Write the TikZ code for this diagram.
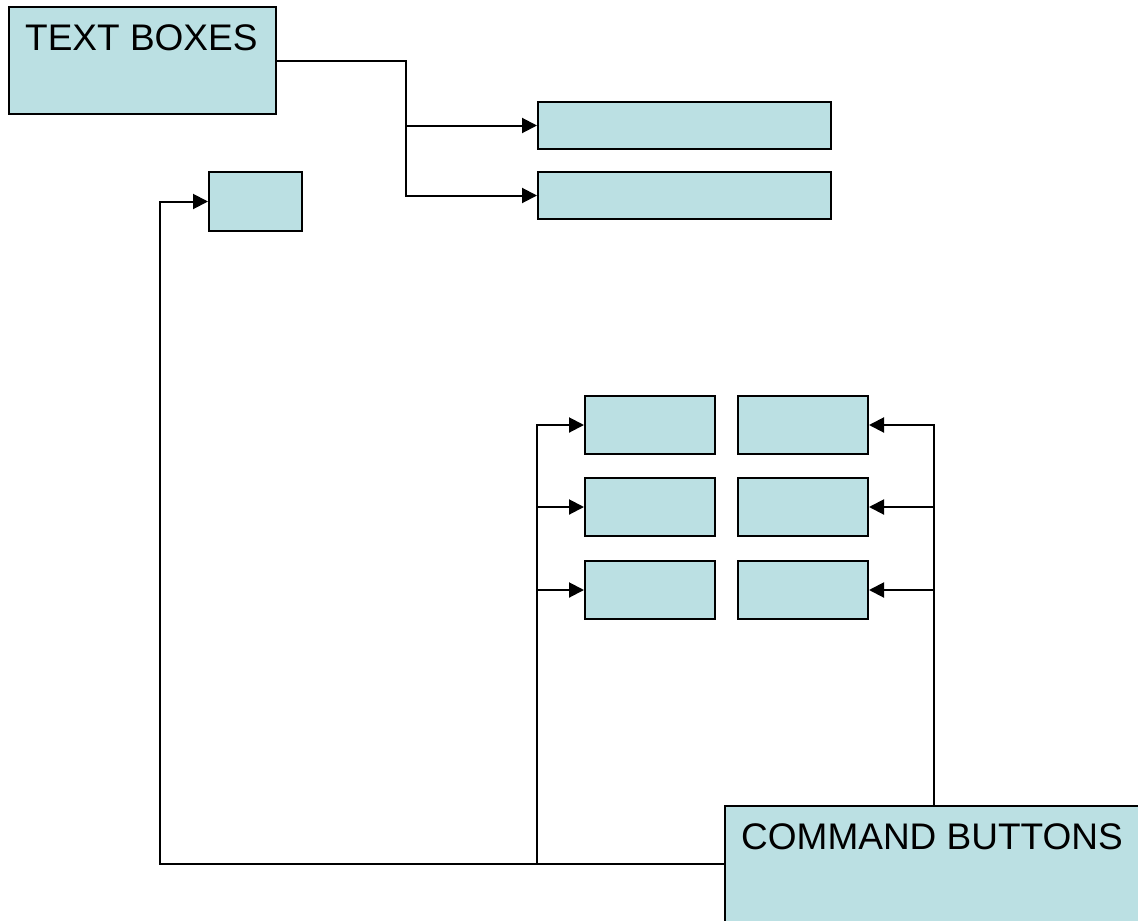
\documentclass[tikz,border=0pt]{standalone}
\usepackage{fontspec}
\setmainfont{Liberation Sans}
\usetikzlibrary{arrows.meta}
\definecolor{boxfill}{HTML}{BBE0E3}
\tikzset{
  box/.style={draw=black, fill=boxfill, line width=2pt, rectangle, inner sep=0pt, anchor=north west},
  arr/.style={line width=2pt, -{Triangle[length=15pt,width=15pt]}},
  lbl/.style={anchor=base west, inner sep=0pt, font=\fontsize{37}{44}\selectfont}
}
\begin{document}
\begin{tikzpicture}[x=1pt,y=-1pt]
\useasboundingbox (0,0) rectangle (1138,921);
\clip (0,0) rectangle (1138,921);
% boxes
\node[box, minimum width=267pt, minimum height=107pt] (tb) at (8,6) {};
\node[lbl] (tbt) at (25,50.5) {TEXT BOXES};
\node[box, minimum width=293pt, minimum height=47pt] (r1) at (537,101) {};
\node[box, minimum width=293pt, minimum height=47pt] (r2) at (537,171) {};
\node[box, minimum width=93pt, minimum height=59pt] (s) at (208,171) {};
\node[box, minimum width=130pt, minimum height=58pt] (g11) at (584,395) {};
\node[box, minimum width=130pt, minimum height=58pt] (g12) at (737,395) {};
\node[box, minimum width=130pt, minimum height=58pt] (g21) at (584,477) {};
\node[box, minimum width=130pt, minimum height=58pt] (g22) at (737,477) {};
\node[box, minimum width=130pt, minimum height=58pt] (g31) at (584,560) {};
\node[box, minimum width=130pt, minimum height=58pt] (g32) at (737,560) {};
\node[box, minimum width=430pt, minimum height=140pt] (cb) at (724,805) {};
\node[lbl] (cbt) at (741,849) {COMMAND BUTTONS};
% coordinates
\coordinate (ja) at (406,60);
\coordinate (cbl) at (724,864);
\coordinate (cx) at (160,864);
\coordinate (lt) at (537,864);
\coordinate (rt) at (934,805);
% connectors
\draw[arr] (tb.east) -- (tb.east -| ja) |- (r2.west);
\draw[arr] (ja |- r1.west) -- (r1.west);
\draw[arr] (cbl) -- (cx) |- (s.west);
\draw[arr] (lt) |- (g11.west);
\draw[arr] (lt |- g21.west) -- (g21.west);
\draw[arr] (lt |- g31.west) -- (g31.west);
\draw[arr] (rt) |- (g12.east);
\draw[arr] (rt |- g22.east) -- (g22.east);
\draw[arr] (rt |- g32.east) -- (g32.east);
\end{tikzpicture}
\end{document}
